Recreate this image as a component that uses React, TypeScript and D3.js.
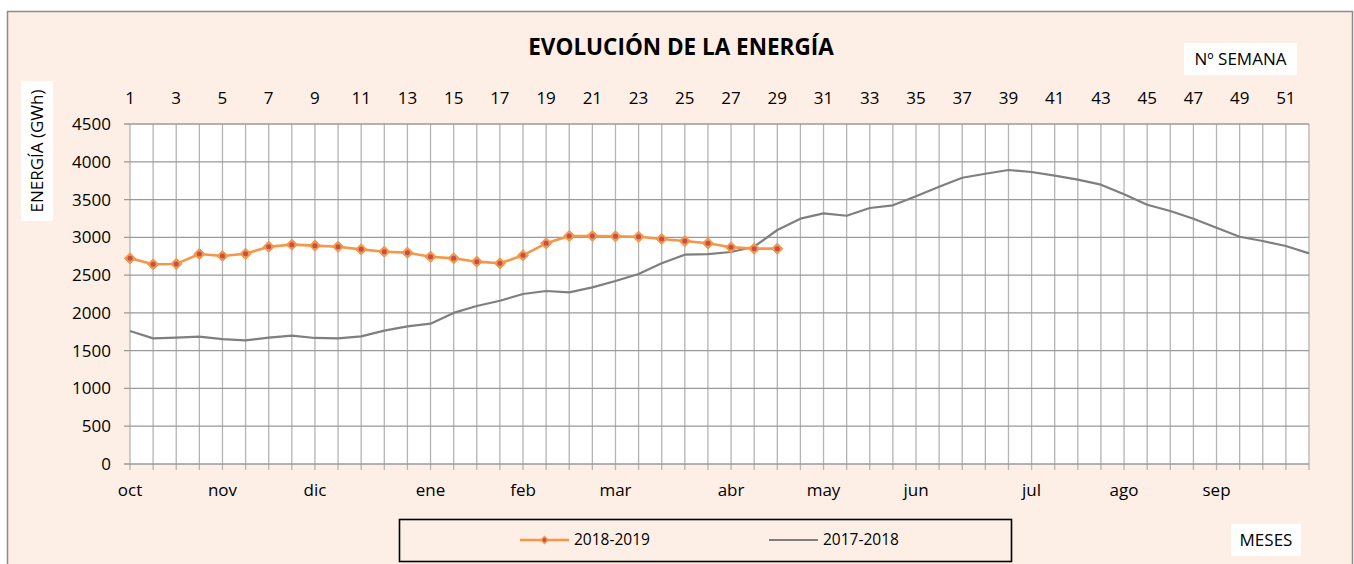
import React, { useEffect, useRef } from "react";
import * as d3 from "d3";

const weeks: number[] = d3.range(1, 53);
const weekLabels: number[] = d3.range(1, 53, 2);
const yTicks: number[] = [0, 500, 1000, 1500, 2000, 2500, 3000, 3500, 4000, 4500];
const months: string[] = ["oct", "nov", "dic", "ene", "feb", "mar", "abr", "may", "jun", "jul", "ago", "sep"];
const monthWeeks: number[] = [1, 5, 9, 14, 18, 22, 27, 31, 35, 40, 44, 48];

const s2018_2019: number[] = [
  2722, 2643, 2648, 2779, 2753, 2783, 2876, 2903, 2890, 2876,
  2841, 2810, 2797, 2744, 2722, 2678, 2656, 2762, 2921, 3018,
  3018, 3013, 3008, 2978, 2951, 2921, 2868, 2850, 2850,
];
const s2017_2018: number[] = [
  1760, 1663, 1672, 1685, 1654, 1637, 1672, 1698, 1668, 1663,
  1690, 1765, 1822, 1857, 2000, 2091, 2161, 2250, 2290, 2272,
  2338, 2422, 2515, 2656, 2770, 2779, 2806, 2876, 3097, 3247,
  3318, 3286, 3388, 3424, 3544, 3669, 3789, 3842, 3891, 3865,
  3816, 3763, 3697, 3569, 3432, 3348, 3247, 3128, 3008, 2951,
  2885, 2788,
];

const W = 1354;
const H = 564;
const FONT = "'Open Sans', 'Noto Sans', sans-serif";

export default function App() {
  const ref = useRef<SVGSVGElement>(null);
  useEffect(() => {
    const svg = d3.select(ref.current);
    svg.selectAll("*").remove();

    const left = 130, right = 1309, top = 124, bottom = 464;
    const x = d3.scaleLinear().domain([1, 52]).range([left, right]);
    const y = d3.scaleLinear().domain([0, 4500]).range([bottom, top]);

    // background
    svg.append("rect").attr("x", 0).attr("y", 0).attr("width", W).attr("height", H).attr("fill", "#ffffff");
    svg.append("rect").attr("x", 7.5).attr("y", 11.5).attr("width", 1345).attr("height", 560)
      .attr("fill", "#fdefe6").attr("stroke", "#8c8c8c").attr("stroke-width", 1.5);

    // plot area
    svg.append("rect").attr("x", left).attr("y", top).attr("width", right - left).attr("height", bottom - top).attr("fill", "#ffffff");

    // vertical grid
    svg.append("g").selectAll("line").data(weeks).join("line")
      .attr("x1", d => x(d)).attr("x2", d => x(d))
      .attr("y1", top).attr("y2", bottom + 6)
      .attr("stroke", "#b4b4b4").attr("stroke-width", 1.3);

    // horizontal grid
    svg.append("g").selectAll("line").data(yTicks).join("line")
      .attr("x1", left - 6).attr("x2", right)
      .attr("y1", d => y(d)).attr("y2", d => y(d))
      .attr("stroke", "#9a9a9a").attr("stroke-width", 1.3);

    // y tick labels
    svg.append("g").selectAll("text").data(yTicks).join("text")
      .attr("x", 111).attr("y", d => y(d)).attr("dy", "0.35em")
      .attr("text-anchor", "end").attr("font-family", FONT).attr("font-size", 17).attr("fill", "#000")
      .text(d => String(d));

    // week labels top
    svg.append("g").selectAll("text").data(weekLabels).join("text")
      .attr("x", d => x(d)).attr("y", 98).attr("dy", "0.35em")
      .attr("text-anchor", "middle").attr("font-family", FONT).attr("font-size", 17).attr("fill", "#000")
      .text(d => String(d));

    // month labels
    svg.append("g").selectAll("text").data(months).join("text")
      .attr("x", (_d, i) => x(monthWeeks[i])).attr("y", 490).attr("dy", "0.35em")
      .attr("text-anchor", "middle").attr("font-family", FONT).attr("font-size", 17).attr("fill", "#000")
      .text(d => d);

    // title
    svg.append("text").attr("x", 681).attr("y", 47).attr("dy", "0.35em")
      .attr("text-anchor", "middle").attr("font-family", FONT).attr("font-weight", "bold")
      .attr("font-size", 22.5).attr("fill", "#000").text("EVOLUCIÓN DE LA ENERGÍA");

    // Nº SEMANA box
    svg.append("rect").attr("x", 1184).attr("y", 43).attr("width", 113).attr("height", 32).attr("fill", "#fff");
    svg.append("text").attr("x", 1240.5).attr("y", 59).attr("dy", "0.35em")
      .attr("text-anchor", "middle").attr("font-family", FONT).attr("font-size", 17).attr("fill", "#000")
      .text("Nº SEMANA");

    // MESES box
    svg.append("rect").attr("x", 1231).attr("y", 524).attr("width", 70).attr("height", 32).attr("fill", "#fff");
    svg.append("text").attr("x", 1266).attr("y", 540).attr("dy", "0.35em")
      .attr("text-anchor", "middle").attr("font-family", FONT).attr("font-size", 17).attr("fill", "#000")
      .text("MESES");

    // y axis label box
    svg.append("rect").attr("x", 21).attr("y", 81).attr("width", 32).attr("height", 140).attr("fill", "#fff");
    svg.append("text").attr("transform", "translate(37,151) rotate(-90)").attr("dy", "0.35em")
      .attr("text-anchor", "middle").attr("font-family", FONT).attr("font-size", 17).attr("fill", "#000")
      .text("ENERGÍA (GWh)");

    // lines
    const line = d3.line<number>().x((_d, i) => x(weeks[i])).y(d => y(d));
    svg.append("path").attr("d", line(s2017_2018)).attr("fill", "none")
      .attr("stroke", "#7f7f7f").attr("stroke-width", 2.2).attr("stroke-linejoin", "round");
    svg.append("path").attr("d", line(s2018_2019)).attr("fill", "none")
      .attr("stroke", "#f79646").attr("stroke-width", 2.6).attr("stroke-linejoin", "round");

    const diamond = d3.symbol().type(d3.symbolDiamond2).size(80);
    const mk = svg.append("g").selectAll("g").data(s2018_2019).join("g")
      .attr("transform", (d, i) => `translate(${x(weeks[i])},${y(d)})`);
    mk.append("path").attr("d", diamond()).attr("fill", "#f79646").attr("stroke", "#f79646").attr("stroke-width", 1);
    mk.append("circle").attr("r", 2.5).attr("fill", "#c0504d");

    // legend
    svg.append("rect").attr("x", 399.5).attr("y", 519.5).attr("width", 612).attr("height", 42)
      .attr("fill", "none").attr("stroke", "#000").attr("stroke-width", 1.6);
    svg.append("line").attr("x1", 520).attr("x2", 569).attr("y1", 540).attr("y2", 540)
      .attr("stroke", "#f79646").attr("stroke-width", 2.6);
    const lm = svg.append("g").attr("transform", "translate(544.5,540)");
    lm.append("path").attr("d", d3.symbol().type(d3.symbolDiamond2).size(50)()).attr("fill", "#f79646");
    lm.append("circle").attr("r", 2).attr("fill", "#c0504d");
    svg.append("text").attr("x", 574).attr("y", 540).attr("dy", "0.35em")
      .attr("font-family", FONT).attr("font-size", 15.5).attr("fill", "#000").text("2018-2019");
    svg.append("line").attr("x1", 769).attr("x2", 818).attr("y1", 540).attr("y2", 540)
      .attr("stroke", "#7f7f7f").attr("stroke-width", 2.2);
    svg.append("text").attr("x", 823).attr("y", 540).attr("dy", "0.35em")
      .attr("font-family", FONT).attr("font-size", 15.5).attr("fill", "#000").text("2017-2018");
  }, []);

  return (
    <svg ref={ref} width={W} height={H} style={{ position: "absolute", left: 0, top: 0, display: "block" }} />
  );
}
